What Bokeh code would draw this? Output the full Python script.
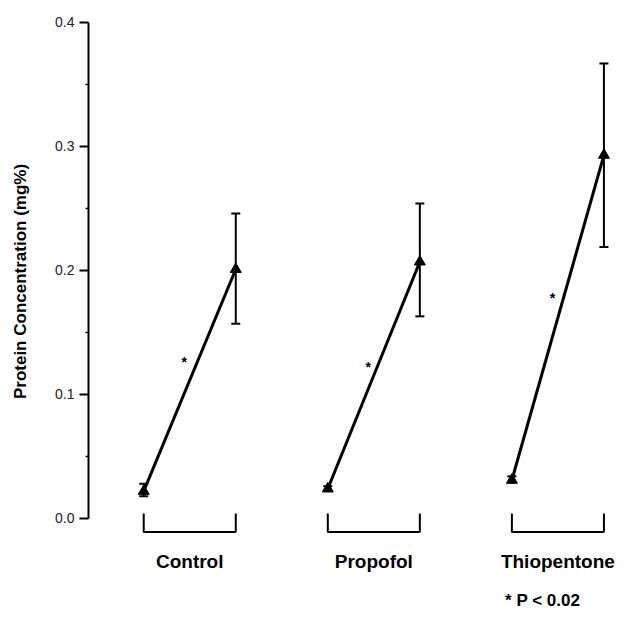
from bokeh.plotting import figure
from bokeh.models import Range1d, FixedTicker, ColumnDataSource, Whisker, LinearAxis
from bokeh.core.properties import value
from bokeh.embed import file_html
from bokeh.resources import INLINE

groups = ["Control", "Propofol", "Thiopentone"]
pre_mean = [0.022, 0.024, 0.031]
pre_lo = [0.018, 0.022, 0.029]
pre_hi = [0.028, 0.026, 0.034]
post_mean = [0.201, 0.207, 0.293]
post_lo = [0.157, 0.163, 0.219]
post_hi = [0.246, 0.254, 0.367]
star_y = [0.126, 0.122, 0.178]
y_ticks = [0.0, 0.1, 0.2, 0.3, 0.4]
y_tick_labels = ["0.0", "0.1", "0.2", "0.3", "0.4"]
minor_ticks = [0.05, 0.15, 0.25, 0.35]
note = "*  P < 0.02"

FONT = "Liberation Sans"

p = figure(width=620, height=620, output_backend="svg", toolbar_location=None,
           x_range=Range1d(-0.6, 5.18), y_range=Range1d(-0.021, 0.4032),
           min_border_left=88, min_border_right=0, min_border_top=18, min_border_bottom=76,
           x_axis_location=None)
p.outline_line_color = None
p.grid.visible = False
p.background_fill_color = "white"

ya = p.yaxis[0]
ya.bounds = (0, 0.4)
ya.ticker = FixedTicker(ticks=y_ticks, minor_ticks=minor_ticks)
ya.major_label_overrides = {t: l for t, l in zip(y_ticks, y_tick_labels)}
ya.axis_line_width = 2
ya.major_tick_line_width = 2
ya.major_tick_out = 9
ya.major_tick_in = 0
ya.minor_tick_out = 3
ya.minor_tick_in = 0
ya.minor_tick_line_width = 1.5
ya.major_label_text_font = FONT
ya.major_label_text_font_size = "14px"
ya.major_label_text_color = "#222222"
ya.major_label_standoff = 5
ya.axis_label = "Protein Concentration (mg%)"
ya.axis_label_text_font = FONT
ya.axis_label_text_font_size = "17px"
ya.axis_label_text_font_style = "bold"
ya.axis_label_text_color = "black"
ya.axis_label_standoff = 22

group_centers = [2 * i + 0.5 for i in range(len(groups))]
xa = LinearAxis(ticker=FixedTicker(ticks=group_centers, minor_ticks=[]),
                major_label_overrides={c: g for c, g in zip(group_centers, groups)})
xa.axis_line_color = None
xa.major_tick_line_color = None
xa.minor_tick_line_color = None
xa.major_label_text_font = FONT
xa.major_label_text_font_size = "19px"
xa.major_label_text_font_style = "bold"
xa.major_label_text_color = "black"
xa.major_label_standoff = 0
p.add_layout(xa, "below")

xb = LinearAxis(ticker=FixedTicker(ticks=[4.36], minor_ticks=[]),
                major_label_overrides={4.36: note})
xb.axis_line_color = None
xb.major_tick_line_color = None
xb.minor_tick_line_color = None
xb.major_label_text_font = FONT
xb.major_label_text_font_size = "17px"
xb.major_label_text_font_style = "bold"
xb.major_label_text_color = "black"
xb.major_label_standoff = 10
p.add_layout(xb, "below")

for i, g in enumerate(groups):
    x0, x1 = 2 * i, 2 * i + 1
    p.line([x0, x1], [pre_mean[i], post_mean[i]], line_color="black", line_width=3)
    src = ColumnDataSource(dict(x=[x0, x1], lo=[pre_lo[i], post_lo[i]], hi=[pre_hi[i], post_hi[i]]))
    w = Whisker(source=src, base="x", lower="lo", upper="hi", line_color="black", line_width=2)
    w.upper_head.size = 9
    w.lower_head.size = 9
    w.upper_head.line_width = 2
    w.lower_head.line_width = 2
    p.add_layout(w)
    p.scatter([x0, x1], [pre_mean[i], post_mean[i]], marker="triangle", size=11,
              fill_color="black", line_color="black")
    p.text([x0 + 0.44], [star_y[i]], text=["*"], text_font=value(FONT), text_font_size="14px",
           text_font_style="bold", text_align="center", text_baseline="middle", text_color="black")
    p.line([x0, x0, x1, x1], [0.004, -0.011, -0.011, 0.004], line_color="black", line_width=2)

open("out.html", "w").write(file_html(p, INLINE))
